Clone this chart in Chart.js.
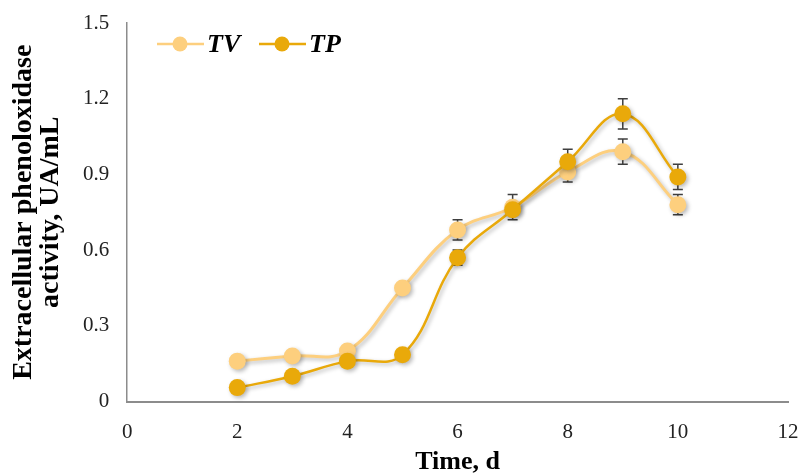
<!DOCTYPE html>
<html lang="en">
<head>
<meta charset="UTF-8">
<title>Extracellular phenoloxidase activity</title>
<script src="https://cdn.jsdelivr.net/npm/chart.js"></script>
<style>
  html, body { margin: 0; padding: 0; background: #fff; }
  #wrap { width: 801px; height: 476px; }
</style>
</head>
<body>
<div id="wrap"><canvas id="chart"></canvas></div>
<script>
const days = [2, 3, 4, 5, 6, 7, 8, 9, 10];
const tvValues = [0.16, 0.18, 0.20, 0.45, 0.68, 0.77, 0.91, 0.99, 0.78];
const tvErrors = [0, 0, 0, 0, 0.04, 0.05, 0.04, 0.05, 0.04];
const tpValues = [0.055, 0.10, 0.16, 0.185, 0.57, 0.76, 0.95, 1.14, 0.89];
const tpErrors = [0, 0, 0, 0, 0.03, 0.02, 0.05, 0.06, 0.05];
const xTicks = [0, 2, 4, 6, 8, 10, 12];
const yTicks = [0, 0.3, 0.6, 0.9, 1.2, 1.5];

const tvColor = "#FDCF7E";
const tpColor = "#E9A90A";
const serif = "'Liberation Serif', 'Times New Roman', serif";

function toPoints(vals) {
    return days.map((d, i) => ({ x: d, y: vals[i] }));
}

// soft shadow under lines and markers
const shadowPlugin = {
    id: "shadow",
    beforeDatasetDraw(chart) {
        const ctx = chart.ctx;
        ctx.save();
        ctx.shadowColor = "rgba(0,0,0,0.28)";
        ctx.shadowBlur = 4;
        ctx.shadowOffsetX = 2;
        ctx.shadowOffsetY = 2;
    },
    afterDatasetDraw(chart) {
        chart.ctx.restore();
    }
};

// error bars go under the datasets so the markers hide the stem
const errorBarPlugin = {
    id: "errorBars",
    beforeDatasetsDraw(chart) {
        const ctx = chart.ctx;
        const ys = chart.scales.y;
        ctx.save();
        ctx.strokeStyle = "#3f3f3f";
        ctx.lineWidth = 1.5;
        chart.data.datasets.forEach((ds, di) => {
            const meta = chart.getDatasetMeta(di);
            meta.data.forEach((pt, i) => {
                const e = ds.errors[i];
                if (!e) return;
                const v = ds.data[i].y;
                const top = ys.getPixelForValue(v + e);
                const bot = ys.getPixelForValue(v - e);
                ctx.beginPath();
                ctx.moveTo(pt.x, top);
                ctx.lineTo(pt.x, bot);
                ctx.moveTo(pt.x - 5, top);
                ctx.lineTo(pt.x + 5, top);
                ctx.moveTo(pt.x - 5, bot);
                ctx.lineTo(pt.x + 5, bot);
                ctx.stroke();
            });
        });
        ctx.restore();
    }
};

// legend sits inside the plot, top left
const legendPlugin = {
    id: "insideLegend",
    afterDraw(chart) {
        const ctx = chart.ctx;
        const items = [
            { name: "TV", color: tvColor, x: 157 },
            { name: "TP", color: tpColor, x: 259 }
        ];
        const y = 44;
        ctx.save();
        items.forEach(it => {
            ctx.strokeStyle = it.color;
            ctx.lineWidth = 2.5;
            ctx.beginPath();
            ctx.moveTo(it.x, y);
            ctx.lineTo(it.x + 47, y);
            ctx.stroke();
            ctx.fillStyle = it.color;
            ctx.beginPath();
            ctx.arc(it.x + 23, y, 7.5, 0, Math.PI * 2);
            ctx.fill();
            ctx.fillStyle = "#000";
            ctx.font = "bold italic 26px " + serif;
            ctx.textBaseline = "middle";
            ctx.fillText(it.name, it.x + 50, y + 1);
        });
        ctx.restore();
    }
};

new Chart(document.getElementById("chart"), {
    type: "line",
    data: {
        datasets: [
            {
                label: "TV",
                data: toPoints(tvValues),
                errors: tvErrors,
                borderColor: tvColor,
                backgroundColor: tvColor,
                pointBackgroundColor: tvColor,
                pointBorderWidth: 0,
                borderWidth: 3,
                pointRadius: 8.5,
                tension: 0.4,
                order: 1
            },
            {
                label: "TP",
                data: toPoints(tpValues),
                errors: tpErrors,
                borderColor: tpColor,
                backgroundColor: tpColor,
                pointBackgroundColor: tpColor,
                pointBorderWidth: 0,
                borderWidth: 2.5,
                pointRadius: 8.5,
                tension: 0.4,
                order: 0
            }
        ]
    },
    options: {
        responsive: true,
        maintainAspectRatio: false,
        animation: false,
        layout: { padding: { top: 23, right: 0, left: 10, bottom: 0 } },
        plugins: {
            legend: { display: false },
            tooltip: { enabled: false }
        },
        scales: {
            x: {
                type: "linear",
                min: 0,
                max: 12,
                afterBuildTicks(axis) { axis.ticks = xTicks.map(v => ({ value: v })); },
                // tick padding would otherwise widen the right margin
                afterFit(axis) { axis.paddingRight = 13; },
                grid: { display: false, drawTicks: false },
                border: { color: "#8c8c8c", width: 2 },
                ticks: { color: "#222", font: { family: serif, size: 21 }, padding: 18 },
                title: {
                    display: true,
                    text: "Time, d",
                    color: "#000",
                    font: { family: serif, size: 26, weight: "bold", lineHeight: 1.05 },
                    padding: { top: -14, bottom: 0 }
                }
            },
            y: {
                min: 0,
                max: 1.5,
                afterBuildTicks(axis) { axis.ticks = yTicks.map(v => ({ value: v })); },
                // let the layout padding alone set the plot top
                afterFit(axis) { axis.paddingTop = 0; },
                grid: { display: false, drawTicks: false },
                border: { color: "#8c8c8c", width: 1.5 },
                ticks: {
                    color: "#222",
                    font: { family: serif, size: 21 },
                    padding: 18,
                    callback: v => v === 0 ? "0" : v.toFixed(1)
                },
                title: {
                    display: true,
                    text: ["Extracellular phenoloxidase", "activity, UA/mL"],
                    color: "#000",
                    font: { family: serif, size: 28, weight: "bold", lineHeight: 0.98 },
                    padding: { top: 0, bottom: 0 }
                }
            }
        }
    },
    plugins: [shadowPlugin, errorBarPlugin, legendPlugin]
});
</script>
</body>
</html>
